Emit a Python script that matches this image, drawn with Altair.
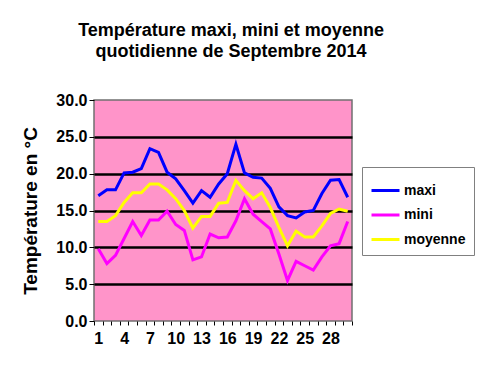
import altair as alt
import pandas as pd

days = list(range(1, 31))
maxi = [17.0, 17.8, 17.8, 20.1, 20.2, 20.7, 23.4, 22.9, 20.2, 19.3,
        17.7, 16.0, 17.7, 16.8, 18.6, 20.0, 24.0, 20.1, 19.5, 19.4,
        18.0, 15.5, 14.3, 14.0, 14.8, 15.0, 17.3, 19.1, 19.2, 16.8]
mini = [9.8, 7.8, 8.9, 11.2, 13.5, 11.6, 13.7, 13.7, 14.9, 13.1,
        12.3, 8.3, 8.7, 11.8, 11.3, 11.4, 13.6, 16.6, 14.5, 13.5,
        12.5, 9.1, 5.5, 8.1, 7.5, 6.9, 8.7, 10.2, 10.5, 13.5]
moyenne = [13.5, 13.5, 14.3, 16.1, 17.4, 17.4, 18.6, 18.6, 17.8, 16.6,
           15.0, 12.6, 14.2, 14.2, 16.0, 16.1, 19.1, 17.7, 16.6, 17.4,
           15.4, 12.7, 10.2, 12.2, 11.4, 11.4, 12.9, 14.6, 15.2, 14.9]
series = ["maxi", "mini", "moyenne"]
colors = ["#0000FF", "#FF00FF", "#FFFF00"]
y_ticks = [0, 5, 10, 15, 20, 25, 30]

rows = []
for name, vals in zip(series, [maxi, mini, moyenne]):
    for d, v in zip(days, vals):
        rows.append({"jour": d, "serie": name, "temp": v})
df = pd.DataFrame(rows)

FONT = "Liberation Sans"

chart = alt.Chart(df).mark_line(strokeWidth=3).encode(
    x=alt.X(
        "jour:O",
        bandPosition=0.5,
        scale=alt.Scale(type="band", paddingInner=0, paddingOuter=0),
        axis=alt.Axis(
            title=None, labelAngle=0, tickBand="extent", domain=False,
            labelExpr="(datum.value - 1) % 3 == 0 ? datum.label : ''",
            labelFont=FONT, labelFontSize=16, labelFontWeight="bold",
            labelColor="black", tickColor="black", tickSize=4,
            labelPadding=5, labelOverlap=False, grid=False,
        ),
    ),
    y=alt.Y(
        "temp:Q",
        scale=alt.Scale(domain=[0, 30], nice=False),
        axis=alt.Axis(
            values=y_ticks, format=".1f", domain=False,
            labelFont=FONT, labelFontSize=16, labelFontWeight="bold",
            labelColor="black", tickColor="black", tickSize=5, labelPadding=2,
            grid=True, gridWidth=2.5,
            gridColor={"condition": {"test": "datum.value == 0 || datum.value == 30",
                                     "value": "transparent"}, "value": "black"},
            title="Température en °C", titleFont=FONT, titleFontSize=19,
            titleFontWeight="bold", titleColor="black",
            titleX=-64, titleY=110.5, titleAngle=270,
            titleAlign="center", titleBaseline="middle",
        ),
    ),
    color=alt.Color(
        "serie:N",
        scale=alt.Scale(domain=series, range=colors),
        legend=alt.Legend(
            title=None, orient="none", legendX=268, legendY=67,
            symbolType="stroke", symbolStrokeWidth=3, symbolSize=784,
            labelFont=FONT, labelFontSize=14, labelFontWeight="bold",
            labelColor="black", labelOffset=3, rowPadding=1.5,
            padding=8, strokeColor="#808080", fillColor="white",
        ),
    ),
).properties(
    width=258,
    height=221,
    autosize=alt.AutoSizeParams(type="none"),
    padding={"left": 86, "top": 92, "right": 123, "bottom": 46},
    title=alt.TitleParams(
        text=["Température maxi, mini et moyenne", "quotidienne de Septembre 2014"],
        font=FONT, fontSize=18, fontWeight="bold", color="black",
        anchor="middle", frame="group", dx=8, offset=31, lineHeight=21,
    ),
).configure(
    background="white"
).configure_view(
    fill="#FF94C9", stroke="#707070", strokeWidth=1.5
)

chart.save("out.html", embed_options={"renderer": "svg", "actions": False})
